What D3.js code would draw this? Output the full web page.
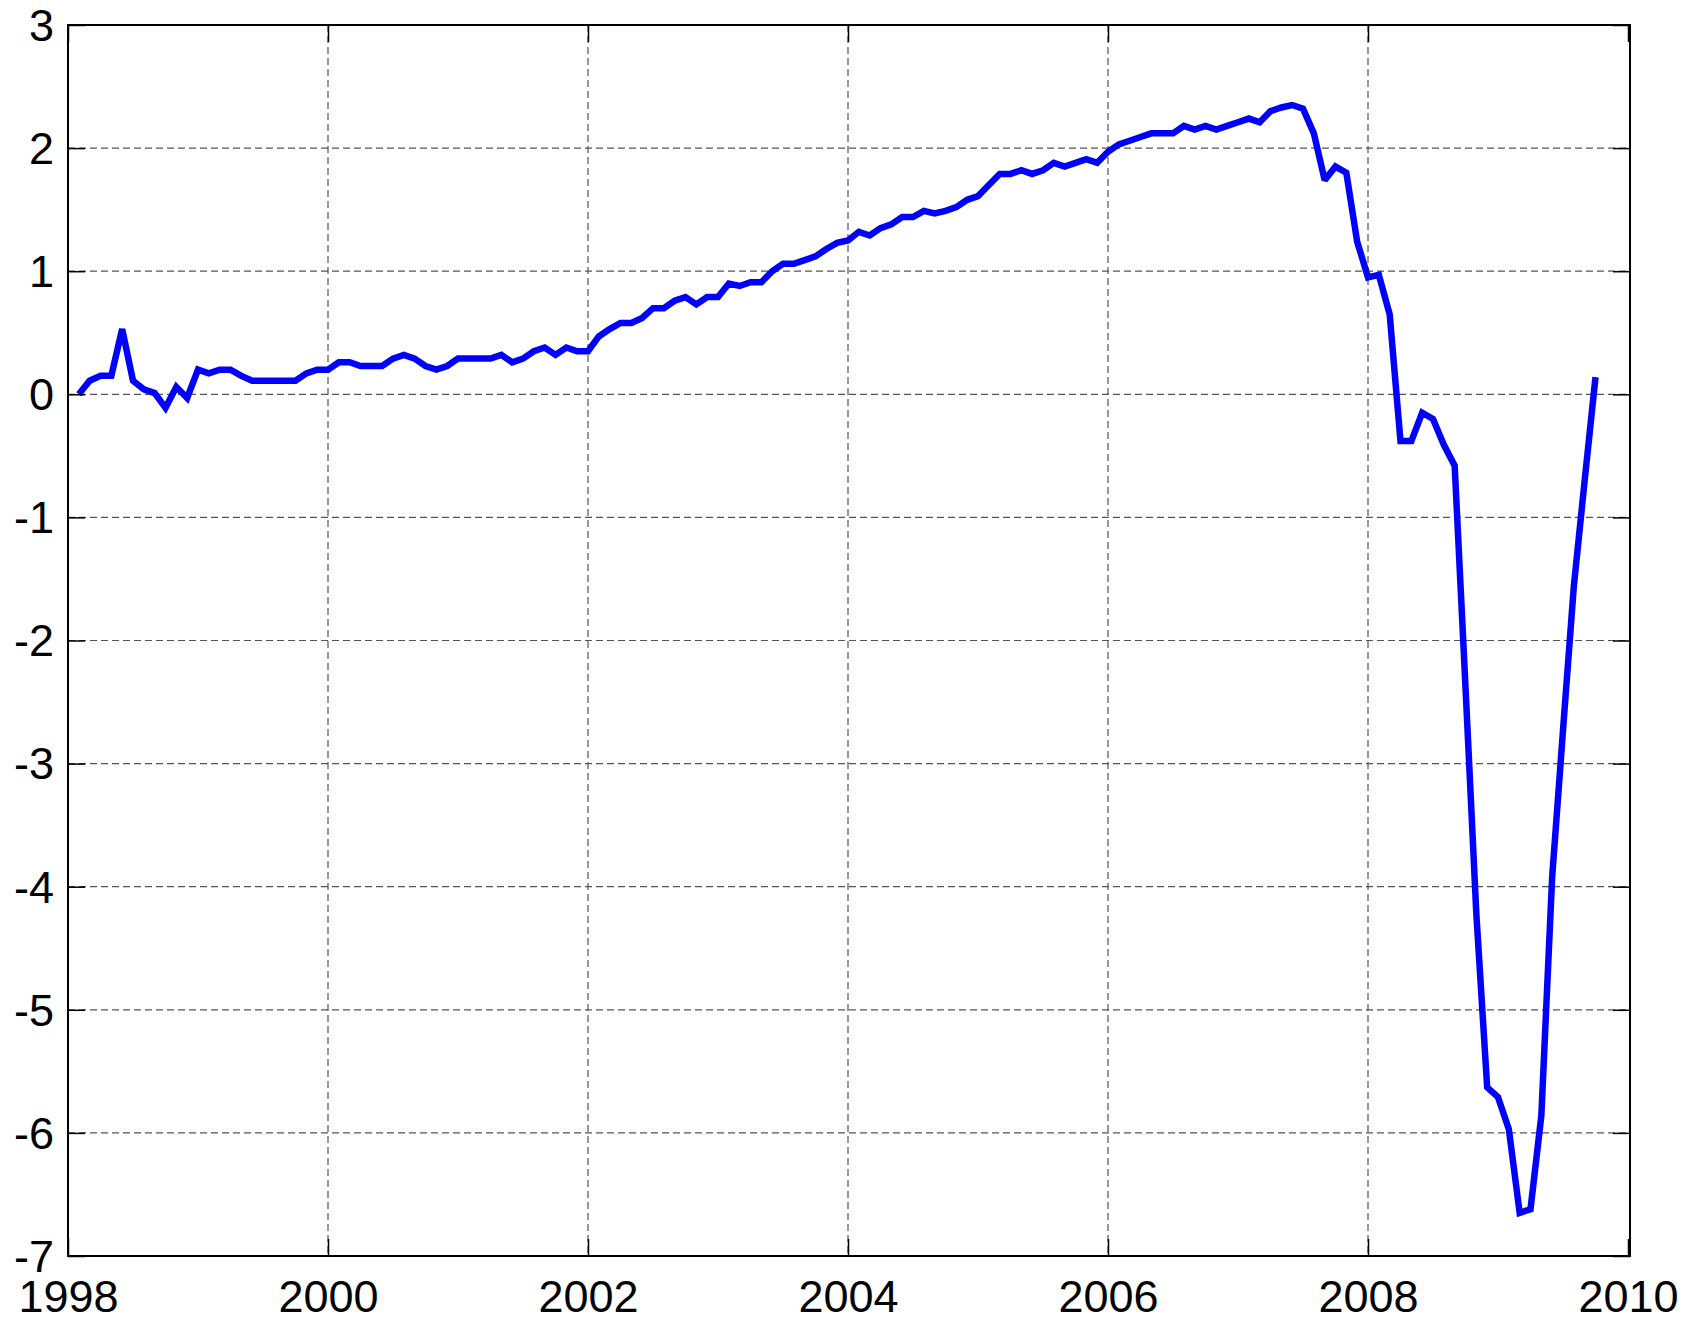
<!DOCTYPE html>
<html>
<head>
<meta charset="utf-8">
<script src="https://cdn.jsdelivr.net/npm/d3@7/dist/d3.min.js"></script>
<style>
  html, body { margin: 0; padding: 0; background: #fff; }
  svg { display: block; }
  text { font-family: "Liberation Sans", Arial, sans-serif; }
</style>
</head>
<body>
<script>
// ---- Data (monthly, starting Jan 1998) ----
const startYear = 1998;
const values = [
  0.00, 0.11, 0.15, 0.15, 0.53, 0.11, 0.04, 0.01, -0.11, 0.06, -0.03, 0.20,
  0.17, 0.20, 0.20, 0.15, 0.11, 0.11, 0.11, 0.11, 0.11, 0.17, 0.20, 0.20,
  0.26, 0.26, 0.23, 0.23, 0.23, 0.29, 0.32, 0.29, 0.23, 0.20, 0.23, 0.29,
  0.29, 0.29, 0.29, 0.32, 0.26, 0.29, 0.35, 0.38, 0.32, 0.38, 0.35, 0.35,
  0.47, 0.53, 0.58, 0.58, 0.62, 0.70, 0.70, 0.76, 0.79, 0.73, 0.79, 0.79,
  0.90, 0.88, 0.91, 0.91, 1.00, 1.06, 1.06, 1.09, 1.12, 1.18, 1.23, 1.25,
  1.32, 1.29, 1.35, 1.38, 1.44, 1.44, 1.49, 1.47, 1.49, 1.52, 1.58, 1.61,
  1.70, 1.79, 1.79, 1.82, 1.79, 1.82, 1.88, 1.85, 1.88, 1.91, 1.88, 1.97,
  2.03, 2.06, 2.09, 2.12, 2.12, 2.12, 2.18, 2.15, 2.18, 2.15, 2.18, 2.21,
  2.24, 2.21, 2.30, 2.33, 2.35, 2.32, 2.12, 1.74, 1.85, 1.80, 1.24, 0.95,
  0.97, 0.65, -0.38, -0.38, -0.15, -0.20, -0.41, -0.58, -2.38, -4.22, -5.63, -5.71,
  -5.97, -6.65, -6.62, -5.86, -3.92, -2.73, -1.56, -0.70, 0.14
];
const xTickValues = [1998, 2000, 2002, 2004, 2006, 2008, 2010];
const yTickValues = [3, 2, 1, 0, -1, -2, -3, -4, -5, -6, -7];

// ---- Layout ----
const W = 1699, H = 1321;
const mLeft = 68, mRight = 1630, mTop = 25, mBottom = 1256;

const svg = d3.select("body").append("svg")
  .attr("width", W).attr("height", H)
  .style("background", "#fff");

const x = d3.scaleLinear().domain([1998, 2010]).range([mLeft, mRight - 2]);
const y = d3.scaleLinear().domain([-7, 3]).range([mBottom, mTop]);

const data = values.map((v, i) => ({ t: startYear + (i + 1) / 12, v }));

// grid
const grid = svg.append("g");
grid.selectAll("line.hg").data(yTickValues.filter(d => d !== 3 && d !== -7)).enter()
  .append("line")
  .attr("x1", mLeft).attr("x2", mRight)
  .attr("y1", d => y(d)).attr("y2", d => y(d))
  .attr("stroke", "#555").attr("stroke-width", 1.2)
  .attr("stroke-dasharray", "7,4");
grid.selectAll("line.vg").data(xTickValues.filter(d => d !== 1998 && d !== 2010)).enter()
  .append("line")
  .attr("y1", mTop).attr("y2", mBottom)
  .attr("x1", d => x(d)).attr("x2", d => x(d))
  .attr("stroke", "#555").attr("stroke-width", 1.2)
  .attr("stroke-dasharray", "7,4");

// data line
const line = d3.line().x(d => x(d.t)).y(d => y(d.v));
svg.append("path")
  .datum(data)
  .attr("d", line)
  .attr("fill", "none")
  .attr("stroke", "#0000ff")
  .attr("stroke-width", 6.5)
  .attr("stroke-linejoin", "miter")
  .attr("stroke-miterlimit", 2);

// axes (inward ticks on all four sides)
const tickLen = 17;
const axB = d3.axisBottom(x).tickValues(xTickValues).tickSize(-tickLen).tickPadding(0).tickFormat(d3.format("d"));
const axT = d3.axisTop(x).tickValues(xTickValues).tickSize(-tickLen).tickFormat("");
const axL = d3.axisLeft(y).tickValues(yTickValues).tickSize(-tickLen).tickFormat(d => String(d));
const axR = d3.axisRight(y).tickValues(yTickValues).tickSize(-tickLen).tickFormat("");

function style(g) {
  g.select(".domain").remove();
  g.selectAll(".tick line").attr("stroke", "#000").attr("stroke-width", 1.5);
  g.selectAll("text").attr("fill", "#000")
    .style("font-family", '"Liberation Sans", Arial, sans-serif')
    .style("font-size", "45px");
}

const gB = svg.append("g").attr("transform", `translate(0,${mBottom})`).call(axB);
style(gB);
gB.selectAll("text").attr("y", 56).attr("dy", null);

svg.append("g").attr("transform", `translate(0,${mTop})`).call(axT).call(style);

const gL = svg.append("g").attr("transform", `translate(${mLeft},0)`).call(axL);
style(gL);
gL.selectAll("text").attr("x", -14).attr("dy", "0.34em").attr("text-anchor", "end");

svg.append("g").attr("transform", `translate(${mRight},0)`).call(axR).call(style);

// box
svg.append("rect")
  .attr("x", mLeft).attr("y", mTop)
  .attr("width", mRight - mLeft).attr("height", mBottom - mTop)
  .attr("fill", "none").attr("stroke", "#000").attr("stroke-width", 2);
</script>
</body>
</html>
